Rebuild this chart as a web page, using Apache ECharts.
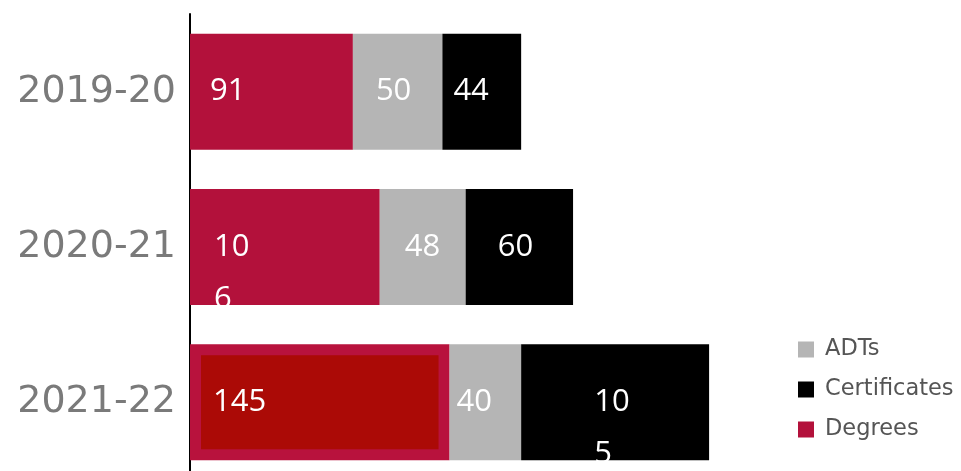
<!DOCTYPE html>
<html>
<head>
<meta charset="utf-8">
<script src="https://cdn.jsdelivr.net/npm/echarts@6/dist/echarts.min.js"></script>
<style>
    html, body { margin: 0; padding: 0; background: #fff; }
    #chart { width: 961px; height: 471px; }
</style>
</head>
<body>
<div id="chart"></div>
<script>
const categories = ['2019-20', '2020-21', '2021-22'];
const degrees = [91, 106, 145];
const adts = [50, 48, 40];
const certificates = [44, 60, 105];

// label nudges (px from bar start) and which values get wrapped after two digits
const degreesPad = [20, 24, 23];
const adtsPad = [23, 25, 7];
const certPad = [11, 32, 73];
const degreesWrap = [false, true, false];
const certWrap = [false, false, true];

const labelFont = {
    color: '#fff',
    fontFamily: 'Open Sans',
    fontSize: 31,
    lineHeight: 52
};

function items(values, pads, wraps) {
    return values.map((v, i) => {
        const wrap = wraps && wraps[i];
        return {
            value: v,
            label: {
                offset: [pads[i], wrap ? 26 : 0],
                formatter(p) {
                    const s = String(p.value);
                    return wrap ? s.slice(0, 2) + '\n' + s.slice(2) : s;
                }
            }
        };
    });
}

const degreesData = items(degrees, degreesPad, degreesWrap);
// the last degrees bar is drawn darker with a crimson rim
degreesData[2].itemStyle = { color: '#ab0a06', borderColor: '#b8123d', borderWidth: 11 };

const option = {
    animation: false,
    grid: {
        left: 190,
        right: 55,
        top: 14,
        height: 466,
        outerBoundsMode: 'none'
    },
    legend: {
        orient: 'vertical',
        left: 793,
        top: 332,
        itemWidth: 16,
        itemHeight: 16,
        itemGap: 15,
        icon: 'rect',
        data: ['ADTs', 'Certificates', 'Degrees'],
        textStyle: {
            color: '#555',
            fontFamily: 'DejaVu Sans',
            fontSize: 22.5,
            lineHeight: 25,
            padding: [0, 0, 0, 6]
        }
    },
    xAxis: {
        type: 'value',
        min: 0,
        max: 400,
        show: false
    },
    yAxis: {
        type: 'category',
        inverse: true,
        data: categories,
        axisLine: { lineStyle: { color: '#000', width: 2 } },
        axisTick: { show: false },
        axisLabel: {
            margin: 14,
            color: '#7a7a7a',
            fontFamily: 'DejaVu Sans',
            fontSize: 38
        }
    },
    series: [
        {
            name: 'Degrees',
            type: 'bar',
            stack: 'total',
            barWidth: 116,
            itemStyle: { color: '#b3113b' },
            label: Object.assign({ show: true, position: 'insideLeft', distance: 0 }, labelFont),
            data: degreesData
        },
        {
            name: 'ADTs',
            type: 'bar',
            stack: 'total',
            barWidth: 116,
            itemStyle: { color: '#b5b5b5' },
            label: Object.assign({ show: true, position: 'insideLeft', distance: 0 }, labelFont),
            data: items(adts, adtsPad)
        },
        {
            name: 'Certificates',
            type: 'bar',
            stack: 'total',
            barWidth: 116,
            itemStyle: { color: '#000' },
            label: Object.assign({ show: true, position: 'insideLeft', distance: 0 }, labelFont),
            data: items(certificates, certPad, certWrap)
        }
    ]
};

const chart = echarts.init(document.getElementById('chart'));
chart.setOption(option);
</script>
</body>
</html>
